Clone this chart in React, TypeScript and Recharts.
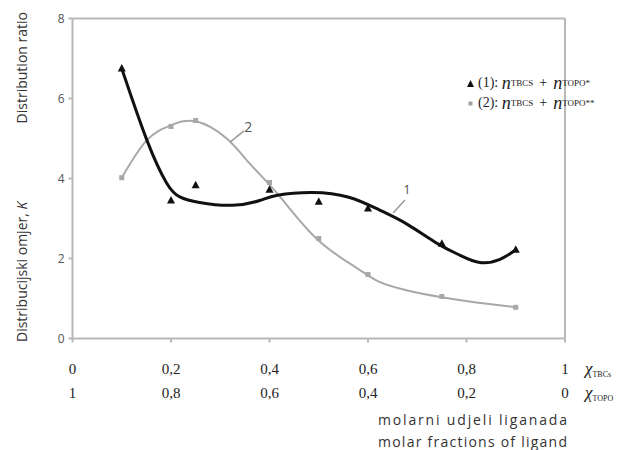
import React from "react";
import {
  ComposedChart,
  Line,
  Scatter,
  XAxis,
  YAxis,
  ReferenceLine,
  ReferenceDot,
  Legend,
} from "recharts";

// measured points (x = molar fraction TBCs)
const fractions = [0.1, 0.2, 0.25, 0.4, 0.5, 0.6, 0.75, 0.9];
const ratio1 = [6.75, 3.45, 3.83, 3.72, 3.42, 3.25, 2.37, 2.22];
const ratio2 = [4.02, 5.3, 5.45, 3.9, 2.5, 1.6, 1.05, 0.78];

// trend curves
const fit1X = [0.1, 0.151, 0.191, 0.218, 0.258, 0.325, 0.38, 0.416, 0.487, 0.561, 0.622, 0.679, 0.743, 0.787, 0.827, 0.868, 0.9];
const fit1Y = [6.75, 4.96, 3.89, 3.54, 3.4, 3.33, 3.45, 3.58, 3.65, 3.53, 3.22, 2.86, 2.36, 2.08, 1.9, 1.98, 2.22];
const fit2X = [0.1, 0.151, 0.2, 0.25, 0.313, 0.36, 0.416, 0.495, 0.575, 0.622, 0.68, 0.75, 0.82, 0.9];
const fit2Y = [4.02, 4.96, 5.33, 5.43, 5.0, 4.37, 3.62, 2.5, 1.78, 1.42, 1.2, 1.03, 0.9, 0.78];

const xTicks = [0, 0.2, 0.4, 0.6, 0.8, 1];
const xLabelsTBC = ["0", "0,2", "0,4", "0,6", "0,8", "1"];
const xLabelsTOPO = ["1", "0,8", "0,6", "0,4", "0,2", "0"];
const yTicks = [0, 2, 4, 6, 8];
const legendTags = ["(1):", "(2):"];
const legendSubA = ["TBCS", "TBCS"];
const legendSubB = ["TOPO*", "TOPO**"];

const pts1 = fractions.map((x, i) => ({ x, y: ratio1[i] }));
const pts2 = fractions.map((x, i) => ({ x, y: ratio2[i] }));
const fit1 = fit1X.map((x, i) => ({ x, y: fit1Y[i] }));
const fit2 = fit2X.map((x, i) => ({ x, y: fit2Y[i] }));

const SERIF = "Liberation Serif, DejaVu Serif, serif";
const SANS = "Open Sans, Liberation Sans, sans-serif";
const FRAME = "#b8b8b8";

const Triangle = (props: any) => {
  const { cx, cy } = props;
  return <polygon points={`${cx},${cy - 4.5} ${cx + 4},${cy + 3} ${cx - 4},${cy + 3}`} fill="#111" />;
};

const Square = (props: any) => {
  const { cx, cy } = props;
  return <rect x={cx - 2.5} y={cy - 2.5} width={5} height={5} fill="#a8a8a8" />;
};

// two rows of labels under each tick: x(TBCs) and x(TOPO)
const DoubleTick = (props: any) => {
  const { x, y, payload } = props;
  const i = xTicks.indexOf(payload.value);
  return (
    <g fill="#222" fontFamily={SERIF} fontSize={15}>
      <text x={x} y={y + 29} textAnchor="middle">{xLabelsTBC[i]}</text>
      <text x={x} y={y + 53} textAnchor="middle">{xLabelsTOPO[i]}</text>
    </g>
  );
};

const renderLegend = () => (
  <div style={{ fontFamily: SERIF, color: "#222", fontSize: 14 }}>
    {legendTags.map((tag, i) => (
      <div key={tag} style={{ height: 20, display: "flex", alignItems: "center", whiteSpace: "nowrap" }}>
        <svg width={9} height={9} style={{ marginRight: 3 }}>
          {i === 0 ? (
            <polygon points="4.5,1 8,8 1,8" fill="#111" />
          ) : (
            <rect x={2.5} y={2.5} width={4} height={4} fill="#a0a0a0" />
          )}
        </svg>
        <span>{tag}&nbsp;</span>
        <span style={{ fontStyle: "italic", fontSize: 18 }}>n</span>
        <sub style={{ fontSize: 9 }}>{legendSubA[i]}</sub>
        <span style={{ margin: "0 6px" }}>+</span>
        <span style={{ fontStyle: "italic", fontSize: 18 }}>n</span>
        <sub style={{ fontSize: 9 }}>{legendSubB[i]}</sub>
      </div>
    ))}
  </div>
);

const YTitle = () => (
  <g fill="#333" fontFamily={SANS} fontSize={14}>
    <text transform="translate(27,342) rotate(-90)" textAnchor="start">
      Distribucijski omjer, <tspan fontStyle="italic">K</tspan>
    </text>
    <text transform="translate(27,12) rotate(-90)" textAnchor="end">
      Distribution ratio
    </text>
  </g>
);

const ChiLabel = ({ y, sub }: { y: number; sub: string }) => (
  <text x={585} y={y} fill="#222" fontFamily={SERIF} fontSize={17} fontStyle="italic">
    χ<tspan fontSize={8} fontStyle="normal" dy={3}>{sub}</tspan>
  </text>
);

const BottomLabels = () => (
  <g>
    <ChiLabel y={374} sub="TBCs" />
    <ChiLabel y={398} sub="TOPO" />
    <g fill="#333" fontFamily={SANS} fontSize={14}>
      <text x={378} y={425} textLength={189}>molarni udjeli liganada</text>
      <text x={378} y={447} textLength={189}>molar fractions of ligand</text>
    </g>
  </g>
);

export default function App() {
  return (
    <div style={{ position: "absolute", left: 0, top: 0, background: "#fff" }}>
      <ComposedChart
        width={637}
        height={450}
        margin={{ top: 18.5, right: 72, left: 12.5, bottom: 56.5 }}
      >
        <XAxis
          type="number"
          dataKey="x"
          domain={[0, 1]}
          ticks={xTicks}
          height={55}
          stroke={FRAME}
          strokeWidth={2}
          tickSize={4}
          tick={<DoubleTick />}
          label={{ content: () => <BottomLabels /> }}
        />
        <YAxis
          type="number"
          domain={[0, 8]}
          ticks={yTicks}
          width={60}
          stroke={FRAME}
          strokeWidth={2}
          tickSize={4}
          tickMargin={4}
          tick={{ fill: "#555", fontFamily: SANS, fontSize: 12 }}
          label={{ content: () => <YTitle /> }}
        />
        <ReferenceLine y={8} stroke={FRAME} strokeWidth={2} />
        <ReferenceLine x={1} stroke={FRAME} strokeWidth={2} />

        <Line
          data={fit2}
          dataKey="y"
          type="natural"
          stroke="#a8a8a8"
          strokeWidth={2}
          dot={false}
          isAnimationActive={false}
        />
        <Line
          data={fit1}
          dataKey="y"
          type="natural"
          stroke="#111"
          strokeWidth={3}
          dot={false}
          isAnimationActive={false}
        />
        <Scatter data={pts2} dataKey="y" shape={<Square />} isAnimationActive={false} />
        <Scatter data={pts1} dataKey="y" shape={<Triangle />} isAnimationActive={false} />

        <ReferenceLine
          segment={[{ x: 0.32, y: 4.91 }, { x: 0.348, y: 5.19 }]}
          stroke="#999"
          strokeWidth={1.5}
        />
        <ReferenceDot
          x={0.357}
          y={5.28}
          r={0}
          stroke="none"
          label={{ value: "2", position: "center", fill: "#555", fontFamily: SANS, fontSize: 14 }}
        />
        <ReferenceLine
          segment={[{ x: 0.651, y: 3.14 }, { x: 0.675, y: 3.46 }]}
          stroke="#999"
          strokeWidth={1.5}
        />
        <ReferenceDot
          x={0.679}
          y={3.72}
          r={0}
          stroke="none"
          label={{ value: "1", position: "center", fill: "#555", fontFamily: SANS, fontSize: 13 }}
        />
        <Legend
          layout="vertical"
          align="center"
          verticalAlign="middle"
          content={renderLegend}
          wrapperStyle={{ left: 466, top: 73, width: 171 }}
        />
      </ComposedChart>
    </div>
  );
}
